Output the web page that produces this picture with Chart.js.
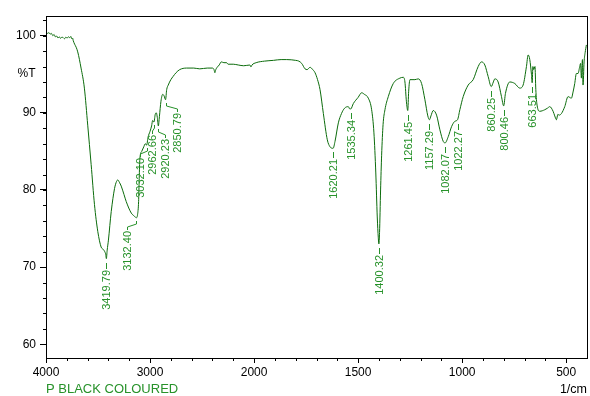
<!DOCTYPE html>
<html>
<head>
<meta charset="utf-8">
<script src="https://cdn.jsdelivr.net/npm/chart.js@4.4.1/dist/chart.umd.min.js"></script>
<style>
  html, body { margin: 0; padding: 0; background: #fff; }
  #wrap { width: 590px; height: 396px; }
</style>
</head>
<body>
<div id="wrap"><canvas id="ir-chart" width="590" height="396"></canvas></div>
<script>
// ===== data =====
var WAVENUMBER = [
  4000, 3985, 3972, 3960, 3948, 3935, 3922, 3910, 3897, 3885, 3872, 3860, 3848, 3835, 3822, 3810,
  3797, 3785, 3772, 3760, 3752, 3745, 3738, 3725, 3710, 3695, 3663, 3631, 3599, 3566, 3534, 3502,
  3470, 3450, 3435, 3425, 3419.79, 3412, 3400, 3373, 3341, 3322, 3310, 3295, 3277, 3250, 3229, 3180,
  3150, 3132.40, 3120, 3110, 3104, 3098, 3080, 3060, 3045, 3032.10, 3020, 3000, 2985, 2975, 2962.66,
  2950, 2940, 2930, 2920.23, 2910, 2895, 2878, 2865, 2850.79, 2840, 2825, 2800, 2779, 2750, 2715,
  2650, 2580, 2522, 2450, 2400, 2385, 2377, 2368, 2355, 2335, 2315, 2290, 2264, 2250, 2200, 2152,
  2100, 2040, 2030, 2020, 1990, 1950, 1907, 1870, 1843, 1800, 1785, 1771, 1755, 1745, 1731, 1718,
  1707, 1695, 1683, 1667, 1648, 1635, 1620.21, 1611, 1595, 1580, 1565, 1547, 1540, 1535.34, 1523,
  1500, 1483, 1470, 1451, 1435, 1424, 1415, 1408, 1403, 1400.32, 1397, 1392, 1387, 1380, 1371, 1355,
  1331, 1299, 1283, 1275, 1268, 1261.45, 1257, 1251, 1227, 1211, 1195, 1179, 1165, 1157.29, 1150,
  1139, 1123, 1107, 1091, 1082.07, 1067, 1051, 1035, 1022.27, 1011, 995, 971, 947, 923, 907, 891,
  875, 860.25, 850, 843, 827, 811, 800.46, 792, 771, 747, 723, 707, 691, 683, 675, 667, 663.51,
  660, 656, 650, 646, 640, 627, 603, 590, 579, 563, 555, 547, 540, 534, 523, 507, 491, 475, 467,
  459, 451, 443, 435, 431, 427, 422, 419, 414, 409, 403
];
var TRANSMITTANCE = [
  100.45, 100.3, 100.4, 100.2, 100.3, 100.0, 100.15, 99.85, 99.95, 99.7, 99.85, 99.65, 99.8, 99.75, 99.6, 99.8,
  99.7, 99.85, 99.75, 99.9, 99.6, 99.7, 99.35, 98.9, 98.5, 97.9, 95.8, 93.2, 88.4, 83.3, 78.1, 74.6,
  72.6, 72.3, 72.0, 71.6, 71.1, 72.2, 73.5, 77.2, 80.2, 81.1, 81.3, 81.0, 80.5, 79.4, 78.5, 77.0,
  76.6, 76.4, 76.8, 78.5, 81.5, 84.0, 85.0, 85.6, 86.0, 85.8, 86.8, 87.6, 88.3, 89.0, 88.8,
  89.8, 90.0, 89.4, 88.3, 89.5, 91.5, 92.4, 92.2, 91.7, 93.0, 93.6, 94.3, 94.7, 95.2, 95.6,
  95.8, 95.8, 95.7, 95.8, 95.8, 95.6, 95.2, 95.6, 95.9, 96.2, 96.6, 96.5, 96.5, 96.3, 96.3, 96.2,
  96.1, 96.2, 95.95, 96.2, 96.5, 96.7, 96.8, 96.9, 96.9, 96.8, 96.7, 96.4, 95.7, 95.6, 95.9, 95.6,
  95.2, 94.3, 93.0, 89.9, 86.5, 85.6, 85.4, 86.3, 88.7, 89.9, 90.6, 90.8, 90.5, 90.5, 91.2,
  92.0, 92.6, 92.4, 91.9, 90.4, 87.4, 82.2, 76.5, 73.8, 73.0, 74.5, 80.0, 84.5, 88.5, 90.4, 92.1,
  93.8, 94.5, 94.6, 94.0, 91.5, 90.3, 92.8, 94.3, 94.3, 94.4, 93.8, 91.7, 89.6, 89.1, 89.6,
  90.3, 89.7, 87.8, 86.3, 86.1, 86.9, 88.2, 88.9, 89.1, 90.4, 92.1, 93.6, 94.3, 96.0, 96.6, 96.2,
  94.7, 93.4, 94.0, 94.4, 94.0, 92.1, 90.9, 92.5, 94.0, 93.8, 93.2, 93.6, 96.0, 97.5, 96.9, 95.0, 93.9,
  96.0, 95.6, 96.0, 93.0, 91.0, 90.2, 90.4, 90.6, 90.8, 90.2, 89.6, 89.1, 89.8, 89.7, 89.9, 90.8, 92.1, 91.9, 92.7,
  93.8, 95.1, 95.1, 96.0, 96.4, 94.5, 96.9, 93.6, 96.6, 97.8, 98.8
];
var PEAKS = [3419.79, 3132.40, 3032.10, 2962.66, 2920.23, 2850.79, 1620.21, 1535.34,
             1400.32, 1261.45, 1157.29, 1082.07, 1022.27, 860.25, 800.46, 663.51];
var X_TICKS = [4000, 3000, 2000, 1500, 1000, 500];
var Y_TICKS = [60, 70, 80, 90, 100];
var X_RANGE = [400, 4000];
var Y_RANGE = [58.22, 102.55];
var SAMPLE_NAME = "P BLACK COLOURED";
var X_UNIT = "1/cm";
var Y_UNIT = "%T";

var LINE_COLOR = "#0b6b0b";
var LABEL_COLOR = "#27922a";
var FONT = "'Liberation Sans', Arial, sans-serif";

// ===== x scale with a 2x expansion below 2000 1/cm =====
var BREAK_AT = 2000, BREAK_FACTOR = 2;
class BreakScale extends Chart.LinearScale {
  _units(v) {
    return v >= BREAK_AT ? this.max - v : (this.max - BREAK_AT) + (BREAK_AT - v) * BREAK_FACTOR;
  }
  getPixelForValue(v) {
    return this.left + this.width * this._units(v) / this._units(this.min);
  }
  getValueForPixel(p) {
    var u = (p - this.left) / this.width * this._units(this.min);
    var edge = this.max - BREAK_AT;
    return u <= edge ? this.max - u : BREAK_AT - (u - edge) / BREAK_FACTOR;
  }
}
BreakScale.id = "irbreak";
BreakScale.defaults = Chart.LinearScale.defaults;
Chart.register(BreakScale);

// labels spread apart so they don't collide
function spreadLabels(xs, gap) {
  var groups = xs.map(function (x) { return { sum: x, n: 1, start: x }; });
  var changed = true;
  while (changed) {
    changed = false;
    for (var i = 0; i < groups.length - 1; i++) {
      var a = groups[i], b = groups[i + 1];
      if (a.start + a.n * gap > b.start) {
        var m = { sum: a.sum + b.sum, n: a.n + b.n };
        m.start = m.sum / m.n - (m.n - 1) * gap / 2;
        groups.splice(i, 2, m);
        changed = true;
        break;
      }
    }
  }
  var out = [];
  groups.forEach(function (g) { for (var k = 0; k < g.n; k++) out.push(g.start + k * gap); });
  return out;
}

var irDecor = {
  id: "irDecor",
  afterDraw: function (chart) {
    var ctx = chart.ctx, area = chart.chartArea;
    var xs = chart.scales.x, ys = chart.scales.y;
    ctx.save();

    // frame
    ctx.strokeStyle = "#000";
    ctx.lineWidth = 1;
    ctx.strokeRect(area.left + 0.5, area.top + 0.5, area.right - area.left, area.bottom - area.top);

    // minor ticks
    ctx.beginPath();
    var v, p;
    for (v = 4000; v >= 500; v -= (v > BREAK_AT ? 200 : 100)) {
      p = Math.round(xs.getPixelForValue(v)) + 0.5;
      ctx.moveTo(p, area.bottom); ctx.lineTo(p, area.bottom + 3);
    }
    for (v = 60; v <= 102; v += 2) {
      p = Math.round(ys.getPixelForValue(v)) + 0.5;
      ctx.moveTo(area.left - 3, p); ctx.lineTo(area.left, p);
    }
    ctx.stroke();

    // peak labels
    var meta = chart.getDatasetMeta(0);
    var pts = PEAKS.map(function (w) { return meta.data[WAVENUMBER.indexOf(w)]; });
    var pos = spreadLabels(pts.map(function (pt) { return pt.x; }), 12.5);
    ctx.strokeStyle = LABEL_COLOR;
    ctx.fillStyle = LABEL_COLOR;
    ctx.font = "11px " + FONT;
    pts.forEach(function (pt, i) {
      var px = Math.round(pt.x) + 0.5, py = Math.round(pt.y);
      var lx = Math.round(pos[i]) + 0.5, top;
      ctx.beginPath();
      if (Math.abs(lx - px) < 1) {
        ctx.moveTo(px, py + 4); ctx.lineTo(px, py + 10);
        top = py + 11;
      } else {
        ctx.moveTo(px, py + 3); ctx.lineTo(px, py + 6);
        ctx.lineTo(lx, py + 9); ctx.lineTo(lx, py + 12);
        top = py + 13;
      }
      ctx.stroke();
      ctx.save();
      ctx.translate(lx, top);
      ctx.rotate(-Math.PI / 2);
      ctx.textAlign = "right";
      ctx.textBaseline = "middle";
      ctx.fillText(PEAKS[i].toFixed(2), 0, 0);
      ctx.restore();
    });

    // texts
    ctx.fillStyle = "#000";
    ctx.font = "12px " + FONT;
    ctx.textAlign = "right";
    ctx.textBaseline = "middle";
    ctx.fillText(Y_UNIT, 35.5, 74);
    ctx.textBaseline = "alphabetic";
    ctx.font = "12.5px " + FONT;
    ctx.fillText(X_UNIT, 587, 393);
    ctx.textAlign = "left";
    ctx.fillStyle = LABEL_COLOR;
    ctx.font = "13px " + FONT;
    ctx.fillText(SAMPLE_NAME, 46, 393);
    ctx.restore();
  }
};

var points = WAVENUMBER.map(function (w, i) { return { x: w, y: TRANSMITTANCE[i] }; });

new Chart(document.getElementById("ir-chart"), {
  type: "line",
  data: {
    datasets: [{
      data: points,
      borderColor: LINE_COLOR,
      borderWidth: 1,
      pointRadius: 0,
      fill: false,
      cubicInterpolationMode: "monotone"
    }]
  },
  options: {
    responsive: false,
    devicePixelRatio: 1,
    animation: false,
    events: [],
    layout: { padding: { top: 16, right: 3, left: 0, bottom: 0 } },
    plugins: { legend: { display: false }, tooltip: { enabled: false } },
    scales: {
      x: {
        type: "irbreak",
        min: X_RANGE[0], max: X_RANGE[1],
        afterBuildTicks: function (axis) { axis.ticks = X_TICKS.map(function (v) { return { value: v }; }); },
        afterFit: function (axis) { axis.height = 38; },
        border: { display: false },
        grid: { display: true, drawOnChartArea: false, drawTicks: true, tickLength: 5, color: "#000" },
        ticks: { autoSkip: false, maxRotation: 0, padding: 2, color: "#000", font: { family: FONT, size: 12 },
                 callback: function (v) { return String(v); } }
      },
      y: {
        min: Y_RANGE[0], max: Y_RANGE[1],
        afterBuildTicks: function (axis) { axis.ticks = Y_TICKS.map(function (v) { return { value: v }; }); },
        afterFit: function (axis) { axis.width = 46; },
        border: { display: false },
        grid: { display: true, drawOnChartArea: false, drawTicks: true, tickLength: 6, color: "#000" },
        ticks: { padding: 4, color: "#000", font: { family: FONT, size: 12 },
                 callback: function (v) { return String(v); } }
      }
    }
  },
  plugins: [irDecor]
});
</script>
</body>
</html>
